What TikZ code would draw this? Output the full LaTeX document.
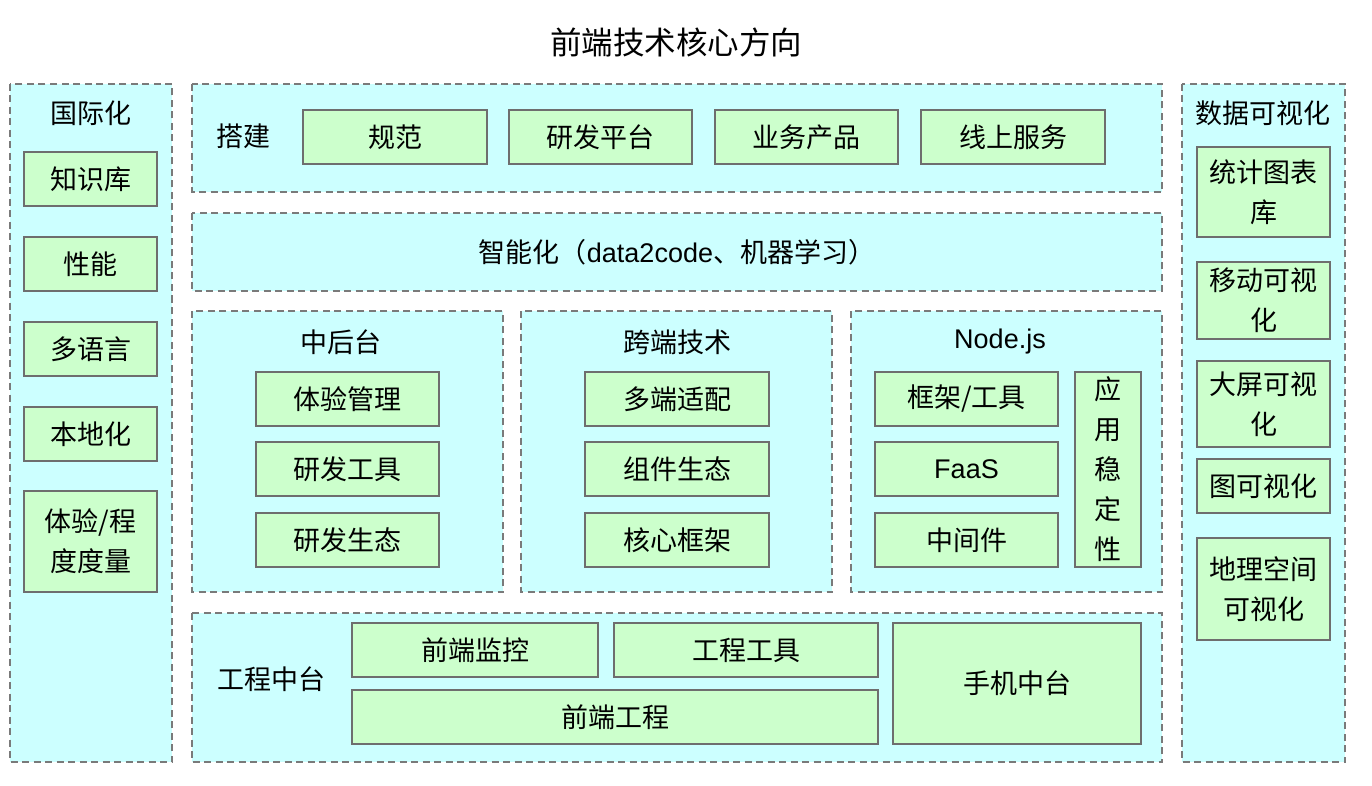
\documentclass[tikz,border=0pt]{standalone}
\usepackage{fontspec}
\setmainfont{Noto Sans CJK SC}
\newfontfamily\latfont{Liberation Sans}
\definecolor{panelfill}{HTML}{CCFFFF}
\definecolor{boxfill}{HTML}{CCFFCC}
\definecolor{boxline}{HTML}{6E6E6E}
\definecolor{panelline}{HTML}{7A7A7A}
\begin{document}
\begin{tikzpicture}[x=1pt,y=-1pt,
  panel/.style={draw=panelline,fill=panelfill,line width=1.6pt,dash pattern=on 7pt off 4.5pt},
  item/.style={draw=boxline,fill=boxfill,line width=1.4pt},
  lbl/.style={font=\fontsize{27}{40}\selectfont,align=center,inner sep=0pt},
  ttl/.style={font=\fontsize{31.5}{36}\selectfont,inner sep=0pt}]
\useasboundingbox (0,0) rectangle (1372,786);

% heading
\node[ttl] (title) at (676,42) {前端技术核心方向};

% outer panels
\draw[panel] (10,84) rectangle (172,762);
\draw[panel] (1182,84) rectangle (1345,762);
\draw[panel] (192,84) rectangle (1162,192);
\draw[panel] (192,213) rectangle (1162,291);
\draw[panel] (192,311) rectangle (503,592);
\draw[panel] (521,311) rectangle (832,592);
\draw[panel] (851,311) rectangle (1162,592);
\draw[panel] (192,613) rectangle (1162,762);

% internationalisation column
\node[lbl] (intl) at (91,113) {国际化};
\draw[item] (24,152) rectangle node[lbl] (kb) {知识库} (157,206);
\draw[item] (24,237) rectangle node[lbl] (perf) {性能} (157,291);
\draw[item] (24,322) rectangle node[lbl] (lang) {多语言} (157,376);
\draw[item] (24,407) rectangle node[lbl] (local) {本地化} (157,461);
\draw[item] (24,491) rectangle node[lbl] (metric) {体验/程\\度度量} (157,592);

% building row
\node[lbl] (build) at (243,136) {搭建};
\draw[item] (303,110) rectangle node[lbl] (spec) {规范} (487,164);
\draw[item] (509,110) rectangle node[lbl] (devplat) {研发平台} (692,164);
\draw[item] (715,110) rectangle node[lbl] (biz) {业务产品} (898,164);
\draw[item] (921,110) rectangle node[lbl] (online) {线上服务} (1105,164);

% intelligence row
\node[lbl] (ai) at (677,252) {智能化（{\latfont data2code}、机器学习）};

% middle platform
\node[lbl] (mid) at (341,342) {中后台};
\draw[item] (256,372) rectangle node[lbl] (ux) {体验管理} (439,426);
\draw[item] (256,442) rectangle node[lbl] (tools) {研发工具} (439,496);
\draw[item] (256,513) rectangle node[lbl] (eco) {研发生态} (439,567);

% cross-end
\node[lbl] (cross) at (677,342) {跨端技术};
\draw[item] (585,372) rectangle node[lbl] (multi) {多端适配} (769,426);
\draw[item] (585,442) rectangle node[lbl] (comp) {组件生态} (769,496);
\draw[item] (585,513) rectangle node[lbl] (core) {核心框架} (769,567);

% Node.js
\node[lbl] (node) at (1000,342) {\latfont Node.js};
\draw[item] (875,372) rectangle node[lbl] (frame) {框架/工具} (1058,426);
\draw[item] (875,442) rectangle node[lbl] (faas) {\latfont FaaS} (1058,496);
\draw[item] (875,513) rectangle node[lbl] (mw) {中间件} (1058,567);
\draw[item] (1075,372) rectangle node[lbl] (stab) {应\\用\\稳\\定\\性} (1141,567);

% engineering platform
\node[lbl] (eng) at (271,679) {工程中台};
\draw[item] (352,623) rectangle node[lbl] (mon) {前端监控} (598,677);
\draw[item] (614,623) rectangle node[lbl] (engtool) {工程工具} (878,677);
\draw[item] (352,690) rectangle node[lbl] (feeng) {前端工程} (878,744);
\draw[item] (893,623) rectangle node[lbl] (mobile) {手机中台} (1141,744);

% data visualisation column
\node[lbl] (vis) at (1263,113) {数据可视化};
\draw[item] (1197,147) rectangle node[lbl] (chart) {统计图表\\库} (1330,237);
\draw[item] (1197,262) rectangle node[lbl] (mvis) {移动可视\\化} (1330,339);
\draw[item] (1197,361) rectangle node[lbl] (bigscr) {大屏可视\\化} (1330,447);
\draw[item] (1197,459) rectangle node[lbl] (graph) {图可视化} (1330,513);
\draw[item] (1197,538) rectangle node[lbl] (geo) {地理空间\\可视化} (1330,640);
\end{tikzpicture}
\end{document}
